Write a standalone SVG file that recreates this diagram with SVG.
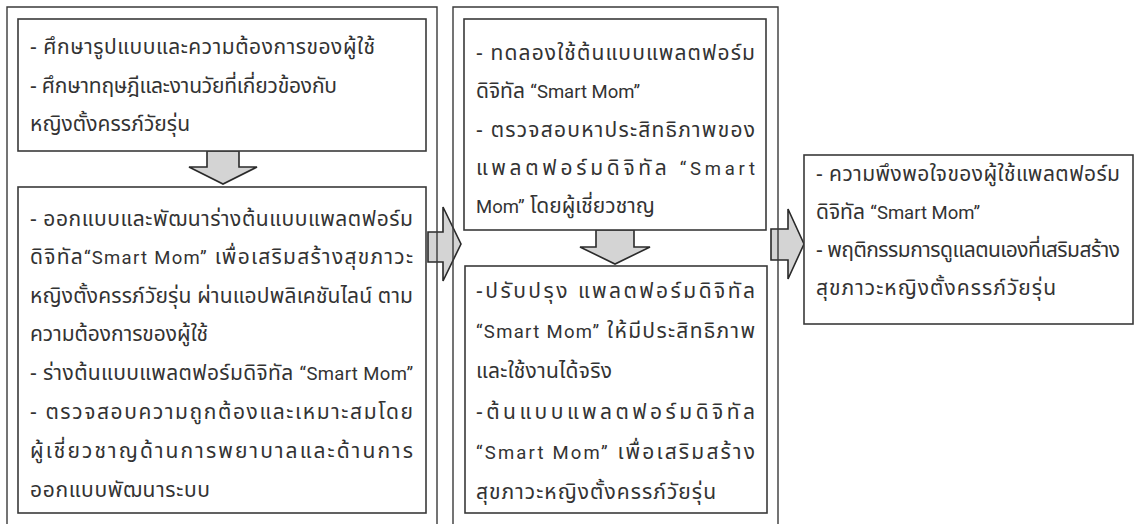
<svg xmlns="http://www.w3.org/2000/svg" width="1141" height="524" viewBox="0 0 1141 524">
<style>
.frame{fill:none;stroke:#3a3a3a;stroke-width:1.4}
.box{fill:#fff;stroke:#3a3a3a;stroke-width:1.6}
.arr{fill:#d4d4d4;stroke:#2a2a2a;stroke-width:1.6;stroke-linejoin:miter}
text{font-family:"Noto Sans","Noto Sans Thai",sans-serif;font-size:21px;fill:#333}
.en{font-family:Roboto,"Noto Sans",sans-serif;font-size:18.5px}
</style>
<rect width="1141" height="524" fill="#fff"/>
<g id="connectors">
<polygon class="arr" points="207,151 239,151 239,167 257,167 223,184 189,167 207,167"/>
<polygon class="arr" points="596,230 634,230 634,247 650,247 615,264 580,247 596,247"/>
<polygon class="arr" points="428,232 443,232 443,207 461,244 443,281 443,262 428,262"/>
<polygon class="arr" points="771,229 788,229 788,209 804,244 788,279 788,260 771,260"/>
</g>
<g id="frames">
<path class="frame" d="M7,530 V7 H437 V530"/>
<path class="frame" d="M453,530 V7 H778 V530"/>
</g>
<g id="node-study">
<rect class="box" x="18" y="19" width="408" height="132"/>
<text x="30" y="54" textLength="345" lengthAdjust="spacing">- ศึกษารูปแบบและความต้องการของผู้ใช้</text>
<text x="30" y="93" textLength="307" lengthAdjust="spacing">- ศึกษาทฤษฎีและงานวัยที่เกี่ยวข้องกับ</text>
<text x="30" y="131" textLength="160" lengthAdjust="spacing">หญิงตั้งครรภ์วัยรุ่น</text>
</g>
<g id="node-design">
<rect class="box" x="18" y="187" width="408" height="326"/>
<text x="30" y="226" textLength="383" lengthAdjust="spacing">- ออกแบบและพัฒนาร่างต้นแบบแพลตฟอร์ม</text>
<text x="30" y="264" textLength="383" lengthAdjust="spacing">ดิจิทัล<tspan class="en">“Smart Mom”</tspan> เพื่อเสริมสร้างสุขภาวะ</text>
<text x="30" y="303" textLength="383" lengthAdjust="spacing">หญิงตั้งครรภ์วัยรุ่น ผ่านแอปพลิเคชันไลน์ ตาม</text>
<text x="30" y="341" textLength="178" lengthAdjust="spacing">ความต้องการของผู้ใช้</text>
<text x="30" y="380" textLength="383" lengthAdjust="spacing">- ร่างต้นแบบแพลตฟอร์มดิจิทัล <tspan class="en">“Smart Mom”</tspan></text>
<text x="30" y="419" textLength="383" lengthAdjust="spacing">- ตรวจสอบความถูกต้องและเหมาะสมโดย</text>
<text x="30" y="458" textLength="383" lengthAdjust="spacing">ผู้เชี่ยวชาญด้านการพยาบาลและด้านการ</text>
<text x="30" y="497" textLength="180" lengthAdjust="spacing">ออกแบบพัฒนาระบบ</text>
</g>
<g id="node-trial">
<rect class="box" x="464" y="19" width="302" height="211"/>
<text x="476" y="60" textLength="279" lengthAdjust="spacing">- ทดลองใช้ต้นแบบแพลตฟอร์ม</text>
<text x="476" y="98">ดิจิทัล <tspan class="en">“Smart Mom”</tspan></text>
<text x="476" y="137" textLength="279" lengthAdjust="spacing">- ตรวจสอบหาประสิทธิภาพของ</text>
<text x="476" y="175" textLength="279" lengthAdjust="spacing">แพลตฟอร์มดิจิทัล <tspan class="en">“Smart</tspan></text>
<text x="476" y="213"><tspan class="en">Mom”</tspan> โดยผู้เชี่ยวชาญ</text>
</g>
<g id="node-improve">
<rect class="box" x="465" y="266" width="302" height="247"/>
<text x="476" y="298" textLength="279" lengthAdjust="spacing">-ปรับปรุง แพลตฟอร์มดิจิทัล</text>
<text x="476" y="338" textLength="279" lengthAdjust="spacing"><tspan class="en">“Smart Mom”</tspan> ให้มีประสิทธิภาพ</text>
<text x="476" y="378" textLength="136" lengthAdjust="spacing">และใช้งานได้จริง</text>
<text x="476" y="419" textLength="279" lengthAdjust="spacing">-ต้นแบบแพลตฟอร์มดิจิทัล</text>
<text x="476" y="459" textLength="279" lengthAdjust="spacing"><tspan class="en">“Smart Mom”</tspan> เพื่อเสริมสร้าง</text>
<text x="476" y="499" textLength="240" lengthAdjust="spacing">สุขภาวะหญิงตั้งครรภ์วัยรุ่น</text>
</g>
<g id="node-outcome">
<rect class="box" x="804" y="155" width="329" height="169"/>
<text x="816" y="181" textLength="304" lengthAdjust="spacing">- ความพึงพอใจของผู้ใช้แพลตฟอร์ม</text>
<text x="816" y="219">ดิจิทัล <tspan class="en">“Smart Mom”</tspan></text>
<text x="816" y="257" textLength="304" lengthAdjust="spacing">- พฤติกรรมการดูแลตนเองที่เสริมสร้าง</text>
<text x="816" y="295" textLength="240" lengthAdjust="spacing">สุขภาวะหญิงตั้งครรภ์วัยรุ่น</text>
</g>
</svg>
